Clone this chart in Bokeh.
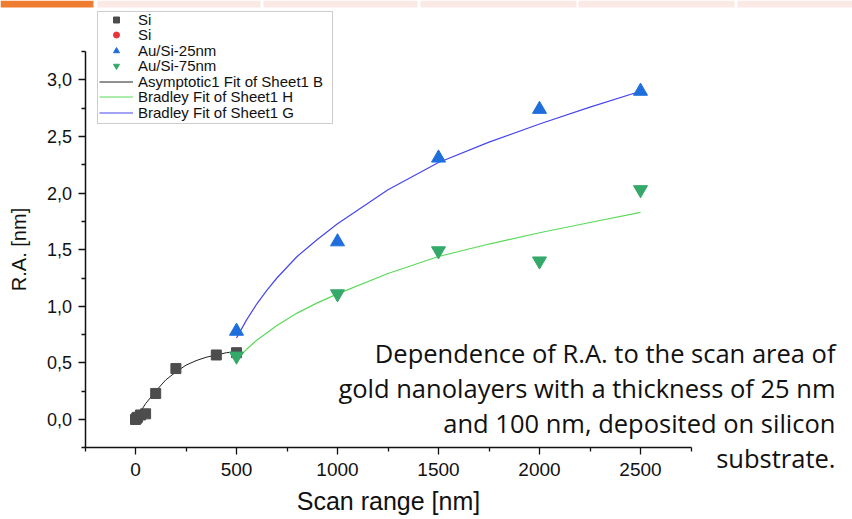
from bokeh.plotting import figure
from bokeh.models import (Legend, LegendItem, Label, BoxAnnotation,
                          FixedTicker, CustomJSTickFormatter, Range1d)
from bokeh.embed import file_html
from bokeh.resources import INLINE

# ---------------- data ----------------
si_x = [0, 5, 10, 25, 50, 100, 200, 400, 500]
si_y = [0.00, 0.01, 0.02, 0.04, 0.05, 0.23, 0.45, 0.57, 0.59]

# second "Si" series (red circles) lies hidden under the squares
si2_x = [0, 5, 10, 25, 50, 100, 200, 400, 500]
si2_y = [0.00, 0.01, 0.02, 0.04, 0.05, 0.23, 0.45, 0.57, 0.59]

au25_x = [500, 1000, 1500, 2000, 2500]
au25_y = [0.78, 1.57, 2.31, 2.74, 2.90]

au75_x = [500, 1000, 1500, 2000, 2500]
au75_y = [0.56, 1.11, 1.49, 1.40, 2.03]

fit_b_x = [0, 25, 50, 100, 150, 200, 250, 300, 350, 400, 450, 500]
fit_b_y = [-0.01, 0.07, 0.14, 0.25, 0.35, 0.42, 0.48, 0.52, 0.55, 0.57, 0.59, 0.60]

fit_h_x = [500, 550, 600, 700, 800, 900, 1000, 1250, 1500, 1750, 2000, 2250, 2500]
fit_h_y = [0.53, 0.62, 0.70, 0.83, 0.94, 1.03, 1.11, 1.29, 1.44, 1.55, 1.65, 1.74, 1.83]

fit_g_x = [500, 550, 600, 650, 700, 800, 900, 1000, 1250, 1500, 1750, 2000, 2250, 2500]
fit_g_y = [0.72, 0.88, 1.02, 1.14, 1.25, 1.44, 1.59, 1.73, 2.03, 2.27, 2.45, 2.61, 2.76, 2.90]

x_major = [0, 500, 1000, 1500, 2000, 2500]
x_minor = [-250, 250, 750, 1250, 1750, 2250, 2750]
y_major = [0.0, 0.5, 1.0, 1.5, 2.0, 2.5, 3.0]
y_minor = [-0.25, 0.25, 0.75, 1.25, 1.75, 2.25, 2.75, 3.25]
x_axis_bounds = (-250, 2750)
y_axis_bounds = (-0.25, 3.25)

legend_labels = ["Si", "Si", "Au/Si-25nm", "Au/Si-75nm",
                 "Asymptotic1 Fit of Sheet1 B", "Bradley Fit of Sheet1 H",
                 "Bradley Fit of Sheet1 G"]

note_lines = ["Dependence of R.A. to the scan area of",
              "gold nanolayers with a thickness of 25 nm",
              "and 100 nm, deposited on silicon",
              "substrate."]

# ---------------- figure (frame covers the whole canvas) ----------------
W, H = 852, 519
X0_PX, XPX_PER_UNIT = 135.0, 0.202      # pixel of x=0 and px per nm
Y0_PX, YPX_PER_UNIT = 419.0, 113.2      # pixel of y=0 and px per nm
x_rng = Range1d(-X0_PX / XPX_PER_UNIT, (W - X0_PX) / XPX_PER_UNIT)
y_rng = Range1d(-(H - Y0_PX) / YPX_PER_UNIT, Y0_PX / YPX_PER_UNIT)

p = figure(width=W, height=H, output_backend="svg", toolbar_location=None,
           x_range=x_rng, y_range=y_rng,
           min_border_left=0, min_border_right=0, min_border_top=0, min_border_bottom=0)
p.outline_line_color = None
p.xgrid.visible = False
p.ygrid.visible = False
p.background_fill_color = "white"
p.border_fill_color = "white"

FONT = "Liberation Sans"
for ax in (p.xaxis[0], p.yaxis[0]):
    ax.axis_line_color = "#111111"
    ax.axis_line_width = 1.5
    ax.major_tick_line_color = "#111111"
    ax.minor_tick_line_color = "#111111"
    ax.major_tick_line_width = 1.3
    ax.minor_tick_line_width = 1.3
    ax.major_tick_out = 7
    ax.major_tick_in = 0
    ax.minor_tick_out = 4
    ax.minor_tick_in = 0
    ax.major_label_text_font = FONT
    ax.major_label_text_color = "#111111"
    ax.axis_label_text_font = FONT
    ax.axis_label_text_font_style = "normal"
    ax.axis_label_text_color = "#111111"

p.xaxis[0].fixed_location = y_axis_bounds[0]
p.yaxis[0].fixed_location = x_axis_bounds[0]
p.xaxis[0].bounds = x_axis_bounds
p.yaxis[0].bounds = y_axis_bounds
p.xaxis[0].ticker = FixedTicker(ticks=x_major, minor_ticks=x_minor)
p.yaxis[0].ticker = FixedTicker(ticks=y_major, minor_ticks=y_minor)
p.yaxis[0].formatter = CustomJSTickFormatter(code="return tick.toFixed(1).replace('.', ',');")
p.xaxis[0].major_label_text_font_size = "19px"
p.yaxis[0].major_label_text_font_size = "18px"
p.xaxis[0].axis_label = "Scan range [nm]"
p.yaxis[0].axis_label = "R.A. [nm]"
p.xaxis[0].axis_label_text_font_size = "25px"
p.yaxis[0].axis_label_text_font_size = "20px"
p.xaxis[0].major_label_standoff = 8
p.xaxis[0].axis_label_standoff = 8
p.yaxis[0].major_label_standoff = 6
p.yaxis[0].axis_label_standoff = 14

# ---------------- glyphs ----------------
r_fb = p.line(fit_b_x, fit_b_y, line_color="#222222", line_width=1)
r_fh = p.line(fit_h_x, fit_h_y, line_color="#5ada5a", line_width=1.2)
r_fg = p.line(fit_g_x, fit_g_y, line_color="#4646ee", line_width=1.2)

r_si2 = p.scatter(si2_x, si2_y, marker="circle", size=8, fill_color="#e8343a", line_color="#e8343a")
r_si = p.scatter(si_x, si_y, marker="square", size=10, fill_color="#4d4d4d", line_color="#4d4d4d")
r_25 = p.scatter(au25_x, au25_y, marker="triangle", size=14, fill_color="#1e6fdc", line_color="#1e6fdc")
r_75 = p.scatter(au75_x, au75_y, marker="inverted_triangle", size=14, fill_color="#34a96a", line_color="#34a96a")

# ---------------- legend: framed box + one row per entry ----------------
p.add_layout(BoxAnnotation(left=97, right=332, top=11, bottom=123,
                           left_units="canvas", right_units="canvas",
                           top_units="canvas", bottom_units="canvas",
                           fill_color="white", fill_alpha=1,
                           line_color="#555555", line_width=1))
legend_renderers = [r_si, r_si2, r_25, r_75, r_fb, r_fh, r_fg]
row_centers = [19, 34.5, 50, 65.5, 81, 96.5, 112]
ROW_H = 17
for lab, rend, cy in zip(legend_labels, legend_renderers, row_centers):
    lg = Legend(items=[LegendItem(label=lab, renderers=[rend])],
                location=(99, H - (cy + ROW_H / 2)))
    lg.label_text_font = FONT
    lg.label_text_font_size = "15px"
    lg.label_text_color = "#111111"
    lg.label_height = 15
    lg.glyph_height = 15
    lg.glyph_width = 34
    lg.label_standoff = 5
    lg.spacing = 0
    lg.padding = 0
    lg.margin = 0
    lg.border_line_color = None
    lg.background_fill_alpha = 0
    p.add_layout(lg, "center")

# ---------------- decorations ----------------
bar_specs = [(0, 93, "#ee7d31"), (97, 260, "#fbe9e5"), (263, 417, "#fbe9e5"),
             (420, 576, "#fbe9e5"), (578, 734, "#fbe9e5"), (737, 852, "#fbe9e5")]
for l, r, c in bar_specs:
    p.add_layout(BoxAnnotation(left=l, right=r, top=0, bottom=7,
                               left_units="canvas", right_units="canvas",
                               top_units="canvas", bottom_units="canvas",
                               fill_color=c, fill_alpha=1, line_color=None))

baselines = [352, 387, 422, 457]
for txt, yb in zip(note_lines, baselines):
    p.add_layout(Label(x=835, y=yb, x_units="canvas", y_units="canvas", text=txt,
                       text_align="right", text_baseline="alphabetic",
                       text_font="Open Sans", text_font_size="25.5px", text_color="#111111"))

open("out.html", "w").write(file_html(p, INLINE))
